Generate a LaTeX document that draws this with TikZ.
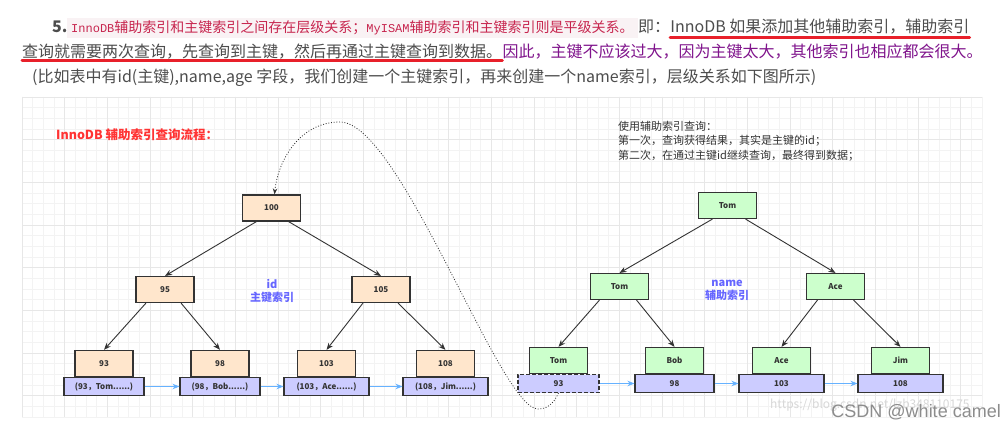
\documentclass[tikz,border=0pt]{standalone}
\usepackage{fontspec}
\setmainfont{Noto Sans CJK SC}
\newfontfamily\codefont{Liberation Mono}
\newfontfamily\marcafont{Liberation Sans}
\usepackage{xcolor}
\usetikzlibrary{arrows.meta,positioning}
\definecolor{NaranjaClave}{RGB}{255,230,204}
\definecolor{VerdeNombre}{RGB}{204,255,204}
\definecolor{LilaFila}{RGB}{204,204,255}
\definecolor{AzulEnlace}{RGB}{102,178,255}
\definecolor{AzulEtiqueta}{RGB}{102,102,255}
\definecolor{RojoTitulo}{RGB}{255,51,51}
\definecolor{RojoSubrayado}{RGB}{232,32,42}
\definecolor{GrisBorde}{RGB}{51,51,51}
\definecolor{GrisTexto}{RGB}{51,51,51}
\definecolor{GrisOscuro}{RGB}{77,77,77}
\definecolor{MoradoTexto}{RGB}{128,20,140}
\definecolor{RosaCodigo}{RGB}{199,37,78}
\definecolor{FondoCodigo}{RGB}{249,242,244}
\definecolor{GrisRejilla}{RGB}{243,243,243}
\definecolor{GrisRejillaG}{RGB}{231,231,231}
\definecolor{GrisMarca}{RGB}{140,140,140}

\begin{document}
\begin{tikzpicture}[x=1pt,y=-1pt,
  texto/.style={inner sep=0pt,font=\fontsize{16}{20}\selectfont,text=GrisOscuro},
  subrayado/.style={RojoSubrayado,line width=3pt,line cap=round},
  clave/.style={draw=GrisBorde,line width=1.1pt,fill=NaranjaClave,minimum width=58pt,
    minimum height=26pt,inner sep=0pt,font=\fontsize{8}{9}\selectfont\bfseries,text=GrisTexto},
  nombre/.style={clave,fill=VerdeNombre},
  fila/.style={draw=GrisBorde,line width=1.1pt,fill=LilaFila,minimum height=18pt,
    inner sep=0pt,font=\fontsize{8}{9}\selectfont\bfseries,text=GrisTexto},
  etiqueta/.style={align=center,font=\fontsize{11}{13}\selectfont\bfseries,text=AzulEtiqueta},
  rama/.style={-{Stealth[length=7pt,width=5.5pt]},GrisBorde,line width=0.9pt},
  enlace/.style={-{Stealth[length=7pt,width=5.5pt]},AzulEnlace,line width=1pt},
  punteado/.style={-{Stealth[length=6pt,width=4.5pt]},GrisBorde,line width=0.8pt,
    dash pattern=on 0.9pt off 1.8pt},
  rejilla/.style={GrisRejilla,line width=0.6pt},
  rejillaG/.style={GrisRejillaG,line width=0.8pt}]
  \useasboundingbox (0,0) rectangle (1007,430);
  \fill[white] (0,0) rectangle (1007,430);

  % rejilla de fondo
  \foreach \i in {0,...,90}
    \draw[rejilla] ({22+\i*10.667},97) -- ({22+\i*10.667},417);
  \foreach \j in {0,...,30}
    \draw[rejilla] (22,{97+\j*10.667}) -- (982,{97+\j*10.667});
  \foreach \i in {0,...,22}
    \draw[rejillaG] ({22+\i*42.667},97) -- ({22+\i*42.667},417);
  \foreach \j in {0,...,7}
    \draw[rejillaG] (22,{97+\j*42.667}) -- (982,{97+\j*42.667});

  % texto de arriba
  \node[texto,anchor=base west,font=\fontsize{16}{20}\selectfont\bfseries] (num) at (52,32.5) {5.};
  \node[anchor=base west,fill=FondoCodigo,text=RosaCodigo,inner xsep=4pt,inner ysep=0pt,
    text height=14.5pt,text depth=5.5pt,font=\fontsize{14}{17}\selectfont] (codigo) at (67,32.5)
    {{\codefont\fontsize{12}{14}\selectfont InnoDB}辅助索引和主键索引之间存在层级关系；{\codefont\fontsize{12}{14}\selectfont MyISAM}辅助索引和主键索引则是平级关系。};
  \node[texto,base right=0pt of codigo] (es) {即：};
  \node[texto,base right=0pt of es] (sub1) {InnoDB 如果添加其他辅助索引，辅助索引};
  \draw[subrayado] ([yshift=-5.5pt]sub1.base west) -- ([yshift=-5.5pt]sub1.base east);
  \node[texto,anchor=base west] (sub2) at (22,57.5) {查询就需要两次查询，先查询到主键，然后再通过主键查询到数据。};
  \draw[subrayado] ([yshift=-3.5pt]sub2.base west) -- ([yshift=-3.5pt]sub2.base east);
  \node[texto,text=MoradoTexto,base right=0pt of sub2] (conc) {因此，主键不应该过大，因为主键太大，其他索引也相应都会很大。};
  \node[texto,anchor=base west] (nota) at (32,82.5) {(比如表中有id(主键),name,age 字段，我们创建一个主键索引，再来创建一个name索引，层级关系如下图所示)};

  % titulos del diagrama
  \node[anchor=west,inner sep=0pt,font=\fontsize{12.5}{15}\selectfont\bfseries,text=RojoTitulo] (titulo) at (56,135) {InnoDB 辅助索引查询流程：};
  \node[anchor=north west,align=left,inner sep=0pt,font=\fontsize{11}{14.5}\selectfont,text=GrisTexto] (pasos) at (618,121)
    {使用辅助索引查询：\\第一次，查询获得结果，其实是主键的id；\\第二次，在通过主键id继续查询，最终得到数据；};

  % arbol del indice primario
  \node[clave] (k100) at (271.5,208) {100};
  \node[clave] (k95) at (165,289.5) {95};
  \node[clave] (k105) at (381,289.5) {105};
  \node[etiqueta] (id) at (272,291.5) {id\\主键索引};
  \node[fila,minimum width=80pt] (f93) at (104,386.5) {(93，Tom......)};
  \node[fila,minimum width=80pt] (f98) at (220,386.5) {(98，Bob......)};
  \node[fila,minimum width=85pt] (f103) at (326.5,386.5) {(103，Ace......)};
  \node[fila,minimum width=85pt] (f108) at (445.5,386.5) {(108，Jim......)};
  \node[clave,above=0pt of f93] (k93) {93};
  \node[clave,above=0pt of f98] (k98) {98};
  \node[clave,above=0pt of f103] (k103) {103};
  \node[clave,above=0pt of f108] (k108) {108};
  \draw[rama] ([xshift=-15pt]k100.south) -- (k95.north);
  \draw[rama] ([xshift=17pt]k100.south) -- (k105.north);
  \draw[rama] ([xshift=-19pt]k95.south) -- (k93.north);
  \draw[rama] ([xshift=16pt]k95.south) -- (k98.north);
  \draw[rama] ([xshift=-18pt]k105.south) -- (k103.north);
  \draw[rama] ([xshift=17pt]k105.south) -- (k108.north);
  \draw[enlace] (f93) -- (f98);
  \draw[enlace] (f98) -- (f103);
  \draw[enlace] (f103) -- (f108);

  % arbol del indice secundario
  \node[nombre] (nTom) at (727.5,205.5) {Tom};
  \node[nombre] (nTom2) at (619.5,286.5) {Tom};
  \node[nombre] (nAce) at (835.5,286.5) {Ace};
  \node[etiqueta] (name) at (727,290) {name\\辅助索引};
  \node[fila,minimum width=81pt,dashed,dash pattern=on 4pt off 2pt] (g93) at (558.5,383.5) {93};
  \node[fila,minimum width=79pt] (g98) at (674.5,383.5) {98};
  \node[fila,minimum width=85pt] (g103) at (781.5,383.5) {103};
  \node[fila,minimum width=85pt] (g108) at (900.5,383.5) {108};
  \node[nombre,above=0pt of g93] (nTom3) {Tom};
  \node[nombre,above=0pt of g98] (nBob) {Bob};
  \node[nombre,above=0pt of g103] (nAce2) {Ace};
  \node[nombre,above=0pt of g108] (nJim) {Jim};
  \draw[rama] ([xshift=-15pt]nTom.south) -- (nTom2.north);
  \draw[rama] ([xshift=18pt]nTom.south) -- (nAce.north);
  \draw[rama] ([xshift=-20pt]nTom2.south) -- (nTom3.north);
  \draw[rama] ([xshift=17pt]nTom2.south) -- (nBob.north);
  \draw[rama] ([xshift=-18pt]nAce.south) -- (nAce2.north);
  \draw[rama] ([xshift=18pt]nAce.south) -- (nJim.north);
  \draw[enlace] (g93) -- (g98);
  \draw[enlace] (g98) -- (g103);
  \draw[enlace] (g103) -- (g108);

  % vuelta al indice primario
  \coordinate (fondo) at (538,409);
  \coordinate (cima) at (340,122);
  \draw[punteado] (g93.south) .. controls (553,405) and (546,409) .. (fondo)
    .. controls (500,409) and (400,122) .. (cima)
    .. controls (300,122) and (278,160) .. ([xshift=3pt]k100.north);

  % marca de agua
  \node[anchor=west,inner sep=0pt,font=\fontsize{12}{14}\selectfont,text=GrisMarca!35] (url) at (770,405) {https://blog.csdn.net/lzb348110175};
  \node[anchor=east,inner sep=0pt,font=\marcafont\fontsize{18}{20}\selectfont,text=GrisMarca] (marca) at (1001,412) {CSDN @white camel};
\end{tikzpicture}
\end{document}
